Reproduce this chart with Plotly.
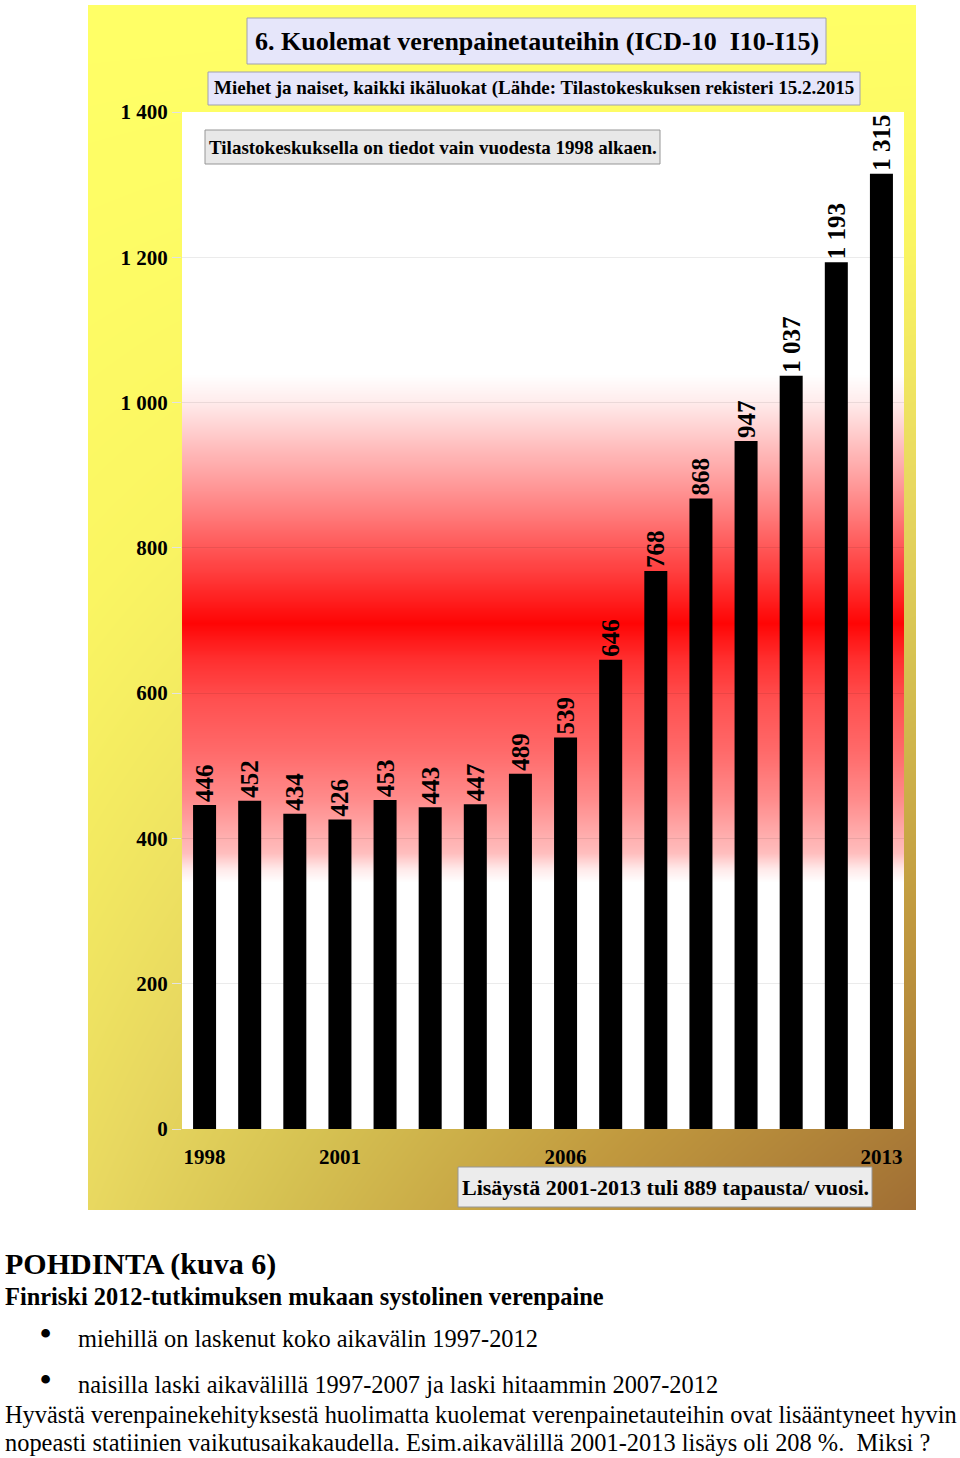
import numpy as np
import plotly.graph_objects as go

# ---------------- data ----------------
years = [str(y) for y in range(1998, 2014)]
deaths = [446, 452, 434, 426, 453, 443, 447, 489, 539, 646, 768, 868, 947, 1037, 1193, 1315]
shown_years = ["1998", "2001", "2006", "2013"]
y_ticks = [0, 200, 400, 600, 800, 1000, 1200, 1400]

title_text = "6. Kuolemat verenpainetauteihin (ICD-10\u00a0\u00a0I10-I15)"
subtitle_text = "Miehet ja naiset, kaikki ikäluokat (Lähde: Tilastokeskuksen rekisteri 15.2.2015"
note_text = "Tilastokeskuksella on tiedot vain vuodesta 1998 alkaen."
increase_text = "Lisäystä 2001-2013 tuli 889 tapausta/ vuosi."
heading_text = "POHDINTA (kuva 6)"
sub_heading_text = "Finriski 2012-tutkimuksen mukaan systolinen verenpaine"
bullet_texts = ["miehillä on laskenut koko aikavälin 1997-2012",
                "naisilla laski aikavälillä 1997-2007 ja laski hitaammin 2007-2012"]
para_texts = ["Hyvästä verenpainekehityksestä huolimatta kuolemat verenpainetauteihin ovat lisääntyneet hyvin",
              "nopeasti statiinien vaikutusaikakaudella. Esim.aikavälillä 2001-2013 lisäys oli 208 %.\u00a0\u00a0Miksi ?"]

# ---------------- layout helpers ----------------
W, H = 960, 1458
SERIF = "Liberation Serif, Times New Roman, serif"


def fx(x):
    return x / W


def fy(y):
    return 1 - y / H


panel = (88, 5, 916, 1210)      # left, top, right, bottom (px)
plot = (182, 112, 904, 1129)

fig = go.Figure()

# ---- background panel gradient (style only) ----
gx = np.linspace(0, 1, 25)
gy = np.linspace(0, 1, 25)
GX, GY = np.meshgrid(gx, gy)
gz = (1 - GY) ** 1.3 * (0.3 + 0.7 * GX)
fig.add_trace(go.Heatmap(
    x=gx, y=gy, z=gz, zsmooth="best", showscale=False, hoverinfo="skip",
    zmin=0, zmax=1,
    colorscale=[[0, "rgb(255,255,102)"], [0.12, "rgb(250,245,98)"], [0.3, "rgb(232,216,96)"],
                [0.45, "rgb(214,194,82)"], [0.7, "rgb(192,152,62)"], [1, "rgb(160,110,52)"]],
    xaxis="x", yaxis="y"))

# ---- red band in plot area (style only) ----
band_y = np.arange(0, 1401, 10)
fig.add_trace(go.Heatmap(
    x=[-0.5, 15.5], y=band_y, z=[[v, v] for v in band_y], zsmooth="best",
    showscale=False, hoverinfo="skip", zmin=0, zmax=1400,
    colorscale=[[0, "#ffffff"], [340 / 1400, "#ffffff"], [357 / 1400, "rgb(255,235,235)"],
                [380 / 1400, "rgb(255,190,190)"], [453 / 1400, "rgb(255,140,140)"],
                [522 / 1400, "rgb(255,105,105)"], [591 / 1400, "rgb(255,80,80)"],
                [650 / 1400, "rgb(255,45,45)"], [697 / 1400, "rgb(255,5,5)"],
                [752 / 1400, "rgb(255,50,50)"], [798 / 1400, "rgb(255,85,85)"],
                [843 / 1400, "rgb(255,120,120)"], [890 / 1400, "rgb(255,155,155)"],
                [936 / 1400, "rgb(255,187,187)"], [981 / 1400, "rgb(255,221,221)"],
                [1005 / 1400, "rgb(255,238,238)"], [1040 / 1400, "#ffffff"], [1, "#ffffff"]],
    xaxis="x2", yaxis="y2"))

# ---- bars ----
fig.add_trace(go.Bar(
    x=years, y=deaths, marker=dict(color="black", line=dict(width=0)),
    texttemplate="%{y:,d}", textposition="outside", textangle=-90,
    textfont=dict(family=SERIF, size=25, color="black", weight="bold"),
    cliponaxis=False, constraintext="none", hoverinfo="skip",
    xaxis="x3", yaxis="y3"))

pd_x = [fx(panel[0]), fx(panel[2])]
pd_y = [fy(panel[3]), fy(panel[1])]
pl_x = [fx(plot[0]), fx(plot[2])]
pl_y = [fy(plot[3]), fy(plot[1])]

hidden = dict(visible=False, fixedrange=True, automargin=False)
fig.update_layout(
    width=W, height=H, margin=dict(l=0, r=0, t=0, b=0, pad=0, autoexpand=False),
    paper_bgcolor="white", plot_bgcolor="rgba(0,0,0,0)",
    showlegend=False, bargap=0.49, separators=", ",
    font=dict(family=SERIF, color="black"),
    xaxis=dict(domain=pd_x, range=[0, 1], anchor="y", **hidden),
    yaxis=dict(domain=pd_y, range=[0, 1], anchor="x", **hidden),
    xaxis2=dict(domain=pl_x, range=[-0.5, 15.5], anchor="y2", **hidden),
    yaxis2=dict(domain=pl_y, range=[0, 1400], anchor="x2", **hidden),
    xaxis3=dict(domain=pl_x, anchor="y3", type="category", range=[-0.5, 15.5],
                tickmode="array", tickvals=shown_years, ticktext=shown_years,
                ticks="outside", ticklen=9, tickcolor="rgba(0,0,0,0)",
                tickfont=dict(family=SERIF, size=21, color="black", weight="bold"),
                showgrid=False, showline=False, zeroline=False, fixedrange=True,
                automargin=False),
    yaxis3=dict(domain=pl_y, anchor="x3", range=[0, 1400], tickmode="array",
                tickvals=y_ticks, tickformat=",d",
                ticks="outside", ticklen=9, tickcolor="#e2e2e2",
                tickfont=dict(family=SERIF, size=21, color="black", weight="bold"),
                showgrid=True, gridcolor="rgba(0,0,0,0.08)", gridwidth=1,
                showline=False, zeroline=False, fixedrange=True, automargin=False),
)

# ---- boxes ----
boxes = [
    ((247, 18, 826, 64), "rgb(230,230,250)", "rgb(160,160,175)"),
    ((208, 72, 860, 105), "rgb(230,230,250)", "rgb(160,160,175)"),
    ((205, 130, 660, 164), "rgb(232,232,232)", "rgb(150,150,150)"),
    ((458, 1167, 872, 1207), "rgb(236,236,236)", "rgb(150,150,150)"),
]
for (x0, y0, x1, y1), fill, line in boxes:
    fig.add_shape(type="rect", xref="paper", yref="paper",
                  x0=fx(x0), x1=fx(x1), y0=fy(y1), y1=fy(y0),
                  fillcolor=fill, line=dict(color=line, width=1), layer="above")


def ann(text, x, y, size, bold=True, xanchor="center"):
    fig.add_annotation(text=text, xref="paper", yref="paper", x=fx(x), y=fy(y),
                       xanchor=xanchor, yanchor="middle", showarrow=False,
                       font=dict(family=SERIF, size=size, color="black",
                                 weight="bold" if bold else "normal"))


ann(title_text, 536.5, 41, 26)
ann(subtitle_text, 534, 88.5, 19)
ann(note_text, 432.5, 147, 19)
ann(increase_text, 665, 1187, 22)

ann(heading_text, 3, 1264, 30, xanchor="left")
ann(sub_heading_text, 3, 1296, 24.4, xanchor="left")
for i, t in enumerate(bullet_texts):
    yy = [1338, 1384][i]
    ann("\u2022", 45, yy - 5, 32, bold=True)
    ann(t, 76, yy, 24.4, bold=False, xanchor="left")
ann(para_texts[0], 3, 1414, 24.4, bold=False, xanchor="left")
ann(para_texts[1], 3, 1442, 24.4, bold=False, xanchor="left")

fig.write_html("out.html")
